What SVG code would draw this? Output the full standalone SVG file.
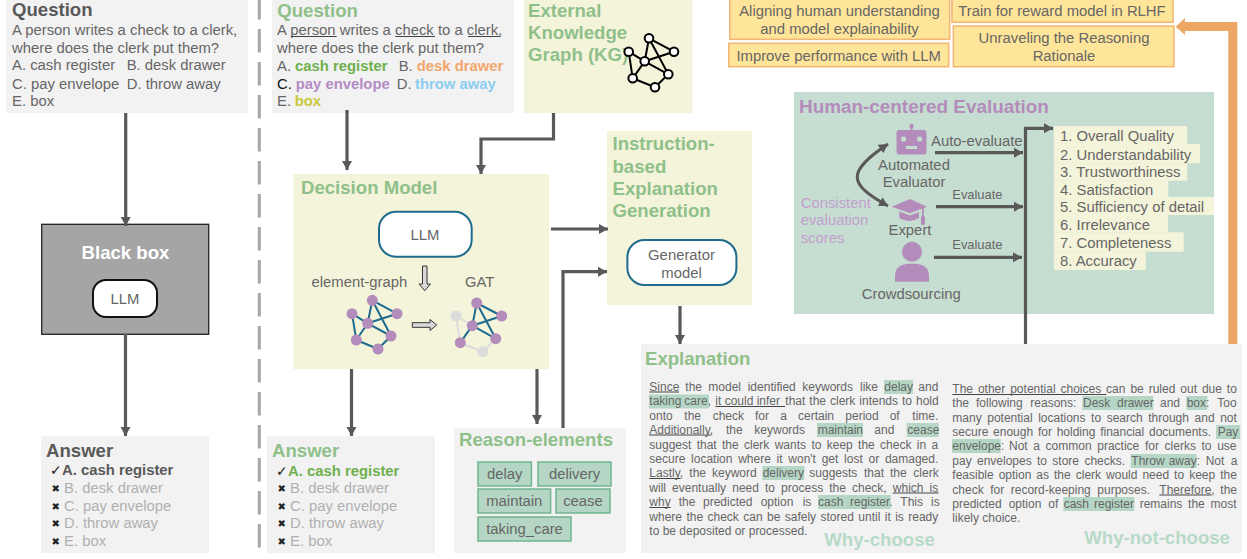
<svg xmlns="http://www.w3.org/2000/svg" width="1247" height="559" viewBox="0 0 1247 559">
<style>
text{font-family:"Liberation Sans",Arial,sans-serif;font-size:14.85px;fill:#666}
.t{font-size:18.6px;font-weight:bold}
.g{fill:#8fc08a}
.dk{fill:#595959}
.c{text-anchor:middle}
.b{font-weight:bold}
.gy{fill:#b0b0b0}
.p{fill:#f2f2f2}
.y{fill:#f4f4da}
.x{font-size:12px}
.hl{fill:#b5d6c5}
.ul{stroke:#444;stroke-width:1;fill:none}
.tag{fill:#b5d6c5;stroke:#6fb58f;stroke-width:1.5}
.ye{fill:#ffe599;stroke:#f2b878;stroke-width:1.6}
.pill{fill:#fff;stroke:#1f6b8e;stroke-width:2}
.mk{font-family:"DejaVu Sans",sans-serif;font-size:10px;fill:#222}
.ck{font-family:"DejaVu Sans",sans-serif;font-size:14px;fill:#222}
.arr{stroke:#595959;stroke-width:3.2;fill:none;marker-end:url(#ah)}
.e{stroke:#1f6b8e;stroke-width:2;fill:none}
.eg{stroke:#dcdcdc;stroke-width:2;fill:none}
.nd{fill:#b48cbc}
.ng{fill:#dcdcdc}
.pu{fill:#b48cbc}
.lp{fill:#c39fd0}
.hol{fill:#d9d9d9;stroke:#333;stroke-width:1}
.w{fill:#b8dac8;font-size:18.6px;font-weight:bold}
</style>
<defs>
<marker id="ah" markerUnits="userSpaceOnUse" markerWidth="12" markerHeight="12" refX="9" refY="6" orient="auto"><path d="M0,1 L9,6 L0,11 Z" fill="#595959"/></marker>
<marker id="ahb" markerUnits="userSpaceOnUse" markerWidth="12" markerHeight="12" refX="9" refY="6" orient="auto-start-reverse"><path d="M0,1 L9,6 L0,11 Z" fill="#595959"/></marker>
</defs>

<g id="question-left">
<rect class="p" x="6" y="0" width="242" height="113"/>
<text class="t dk" x="12" y="16">Question</text>
<text x="12" y="35">A person writes a check to a clerk,</text>
<text x="12" y="53">where does the clerk put them?</text>
<text x="12" y="70">A. cash register</text><text x="126.7" y="70">B. desk drawer</text>
<text x="12" y="88.5">C. pay envelope</text><text x="126.7" y="88.5">D. throw away</text>
<text x="12" y="106">E. box</text>
</g>

<g id="blackbox">
<rect x="41.7" y="224.3" width="167" height="110" fill="#a5a5a5" stroke="#222" stroke-width="1.3"/>
<text class="t c" x="125.5" y="259" style="fill:#fff">Black box</text>
<rect x="93" y="280" width="64" height="37" rx="13" fill="#fff" stroke="#111" stroke-width="2"/>
<text class="c" x="125" y="304">LLM</text>
</g>

<g id="answer-left">
<rect class="p" x="41" y="436" width="168" height="117"/>
<text class="t dk" x="46" y="457">Answer</text>
<text class="ck" x="50" y="475">✓</text><text class="b dk" x="62" y="475">A. cash register</text>
<text class="mk" x="51.5" y="492">✖</text><text class="gy" x="64" y="493">B. desk drawer</text>
<text class="mk" x="51.5" y="510">✖</text><text class="gy" x="64" y="511">C. pay envelope</text>
<text class="mk" x="51.5" y="527">✖</text><text class="gy" x="64" y="528">D. throw away</text>
<text class="mk" x="51.5" y="545">✖</text><text class="gy" x="64" y="546">E. box</text>
</g>

<path id="divider" d="M259.3,-4 V548" stroke="#a6a6a6" stroke-width="3" stroke-dasharray="23.5 9.5" fill="none"/>

<g id="question-right">
<rect class="p" x="272" y="0" width="242" height="113"/>
<text class="t g" x="277.3" y="17">Question</text>
<text x="277" y="35">A person writes a check to a clerk,</text>
<path class="ul" d="M291,36.5H336.7M395.3,36.5H435M468,36.5H500"/>
<text x="277" y="53">where does the clerk put them?</text>
<text x="277" y="71">A.</text><text class="b" x="295" y="71" style="fill:#6fb04e">cash register</text>
<text x="398.7" y="71">B.</text><text class="b" x="416.7" y="71" style="fill:#f2a66a">desk drawer</text>
<text x="277" y="88.5" style="fill:#111">C.</text><text class="b" x="295.7" y="88.5" style="fill:#b48cc4">pay envelope</text>
<text x="396.7" y="88.5">D.</text><text class="b" x="415" y="88.5" style="fill:#8ccdf0">throw away</text>
<text x="277" y="106">E.</text><text class="b" x="294.7" y="106" style="fill:#c9c93c">box</text>
</g>

<g id="kg">
<rect class="y" x="524" y="0" width="168.7" height="113"/>
<text class="t g" x="528" y="17">External</text>
<text class="t g" x="528" y="39">Knowledge</text>
<text class="t g" x="528" y="61">Graph (KG)</text>
<path d="M649,38.3L644.7,61.3M649,38.3L674,51.7M649,38.3L668.3,74.3M628.7,51.7L644.7,61.3M628.7,51.7L632.7,78.3M644.7,61.3L674,51.7M644.7,61.3L668.3,74.3M644.7,61.3L632.7,78.3M632.7,78.3L655,87.3M655,87.3L668.3,74.3" stroke="#000" stroke-width="2" fill="none"/>
<g fill="#fff" stroke="#000" stroke-width="2">
<circle cx="649" cy="38.3" r="4.3"/><circle cx="628.7" cy="51.7" r="4.3"/><circle cx="674" cy="51.7" r="4.3"/><circle cx="644.7" cy="61.3" r="4.3"/><circle cx="668.3" cy="74.3" r="4.3"/><circle cx="632.7" cy="78.3" r="4.3"/><circle cx="655" cy="87.3" r="4.3"/>
</g>
</g>

<g id="decision-model">
<rect class="y" x="293.3" y="174" width="255.7" height="195"/>
<text class="t g" x="301" y="193.5">Decision Model</text>
<rect class="pill" x="379" y="211.7" width="92.7" height="45" rx="17"/>
<text class="c" x="425" y="240">LLM</text>
<text x="311.5" y="287">element-graph</text>
<text x="465" y="287">GAT</text>
<path class="hol" d="M422.5,266H427V284H430.5L424.7,290.7L419,284H422.5Z"/>
<path class="hol" d="M412.3,322.7H430V319.5L436.7,325L430,330.5V327.3H412.3Z"/>
<path class="e" d="M372.3,300.3L367.7,323.3M372.3,300.3L397,313.7M372.3,300.3L391,336M352,313.7L367.7,323.3M352,313.7L356.3,340M367.7,323.3L397,313.7M367.7,323.3L391,336M367.7,323.3L356.3,340M356.3,340L378,349M378,349L391,336"/>
<g class="nd"><circle cx="372.3" cy="300.3" r="5.5"/><circle cx="352" cy="313.7" r="5.5"/><circle cx="397" cy="313.7" r="5.5"/><circle cx="367.7" cy="323.3" r="5.5"/><circle cx="391" cy="336" r="5.5"/><circle cx="356.3" cy="340" r="5.5"/><circle cx="378" cy="349" r="5.5"/></g>
<path class="eg" d="M456,316L472.3,325.7M456,316L460.3,342.7M460.3,342.7L482.7,351.7M482.7,351.7L495.7,338.7"/>
<path class="e" d="M476.7,303L472.3,325.7M476.7,303L501.7,316M476.7,303L495.7,338.7M472.3,325.7L501.7,316M472.3,325.7L495.7,338.7M472.3,325.7L460.3,342.7"/>
<g class="ng"><circle cx="456" cy="316" r="5.5"/><circle cx="482.7" cy="351.7" r="5.5"/></g>
<g class="nd"><circle cx="476.7" cy="303" r="5.5"/><circle cx="501.7" cy="316" r="5.5"/><circle cx="472.3" cy="325.7" r="5.5"/><circle cx="495.7" cy="338.7" r="5.5"/><circle cx="460.3" cy="342.7" r="5.5"/></g>
</g>

<g id="instruction">
<rect class="y" x="607" y="131" width="145" height="174"/>
<text class="t g" x="612.5" y="150">Instruction-</text>
<text class="t g" x="612.5" y="173">based</text>
<text class="t g" x="612.5" y="195">Explanation</text>
<text class="t g" x="612.5" y="217">Generation</text>
<rect class="pill" x="627.4" y="240" width="109" height="45" rx="17"/>
<text class="c" x="681.5" y="260">Generator</text>
<text class="c" x="681.5" y="278">model</text>
</g>

<g id="answer-right">
<rect class="p" x="267" y="436" width="168" height="117"/>
<text class="t g" x="272" y="457">Answer</text>
<text class="ck" x="276" y="476">✓</text><text class="b" x="288" y="476" style="fill:#6fb04e">A. cash register</text>
<text class="mk" x="277.5" y="492">✖</text><text class="gy" x="290" y="493">B. desk drawer</text>
<text class="mk" x="277.5" y="510">✖</text><text class="gy" x="290" y="511">C. pay envelope</text>
<text class="mk" x="277.5" y="527">✖</text><text class="gy" x="290" y="528">D. throw away</text>
<text class="mk" x="277.5" y="545">✖</text><text class="gy" x="290" y="546">E. box</text>
</g>

<g id="reason-elements">
<rect class="p" x="453.8" y="428" width="172" height="125"/>
<text class="t g" x="459" y="446">Reason-elements</text>
<rect class="tag" x="478" y="462" width="53.4" height="24"/><text class="c" x="504.7" y="479">delay</text>
<rect class="tag" x="538" y="462" width="73" height="24"/><text class="c" x="574.5" y="479">delivery</text>
<rect class="tag" x="478" y="489" width="72.6" height="24"/><text class="c" x="514.3" y="506">maintain</text>
<rect class="tag" x="556" y="489" width="54" height="24"/><text class="c" x="583" y="506">cease</text>
<rect class="tag" x="478" y="517" width="93" height="24"/><text class="c" x="524.5" y="534">taking_care</text>
</g>

<g id="goals">
<rect class="ye" x="729.8" y="-2" width="219.9" height="41.3"/>
<text class="c" x="839.5" y="16">Aligning human understanding</text>
<text class="c" x="839.5" y="34">and model explainability</text>
<rect class="ye" x="728.8" y="43.3" width="219.9" height="23.4"/>
<text class="c" x="838.7" y="61">Improve performance with LLM</text>
<rect class="ye" x="952" y="-2" width="221" height="24.3"/>
<text class="c" x="1062" y="16">Train for reward model in RLHF</text>
<rect class="ye" x="953.4" y="26" width="220.6" height="40.7"/>
<text class="c" x="1064" y="43">Unraveling the Reasoning</text>
<text class="c" x="1064" y="61">Rationale</text>
</g>

<g id="evaluation">
<rect x="794" y="92" width="420" height="222" fill="#c6ddd1"/>
<text class="t pu" x="799" y="113" style="font-size:18.9px">Human-centered Evaluation</text>
<g id="robot" class="pu">
<circle cx="911.5" cy="126" r="2.2"/><rect x="910.5" y="126" width="2" height="5"/>
<path fill-rule="evenodd" d="M899.5,130H923.5Q926.5,130 926.5,133V151.5Q926.5,154.5 923.5,154.5H899.5Q896.5,154.5 896.5,151.5V133Q896.5,130 899.5,130ZM901,139a2.6,2.6 0 1 0 5.2,0a2.6,2.6 0 1 0 -5.2,0ZM917,139a2.6,2.6 0 1 0 5.2,0a2.6,2.6 0 1 0 -5.2,0ZM906,146V149H917V146Z"/>
</g>
<text x="931" y="146">Auto-evaluate</text>
<text class="c" x="914" y="170">Automated</text>
<text class="c" x="914" y="187">Evaluator</text>
<g id="expert" class="pu">
<path d="M891.7,206.7L910,199L927,206.7L910,213.3Z"/>
<path d="M899.3,211.5L910,215.5L919,212V218Q910,224 899.3,218Z"/>
<rect x="922" y="208" width="1.8" height="9"/><rect x="921" y="216" width="4" height="9" rx="1.5"/>
</g>
<text class="c" x="910" y="235">Expert</text>
<g id="crowd" class="pu">
<circle cx="912" cy="251.7" r="10"/>
<path d="M895,281.7V276Q895,264 910,263.7H914Q929,264 929,276V281.7Z"/>
</g>
<text class="c" x="911.3" y="299">Crowdsourcing</text>
<text class="lp" x="800.7" y="207.7">Consistent</text>
<text class="lp" x="800.7" y="225">evaluation</text>
<text class="lp" x="800.7" y="242.7">scores</text>
<text x="952.3" y="199.3" style="font-size:12.9px">Evaluate</text>
<text x="952.3" y="249" style="font-size:12.9px">Evaluate</text>
<g id="metrics">
<rect class="y" x="1054" y="126" width="133.3" height="18"/>
<rect class="y" x="1054" y="144" width="146" height="19.3"/>
<rect class="y" x="1054" y="163.3" width="133.3" height="17.4"/>
<rect class="y" x="1054" y="180.7" width="114.3" height="16.3"/>
<rect class="y" x="1054" y="197" width="160" height="18"/>
<rect class="y" x="1054" y="215" width="114" height="17.3"/>
<rect class="y" x="1054" y="232.3" width="129.7" height="19.4"/>
<rect class="y" x="1054" y="251.7" width="91.7" height="18.3"/>
<text x="1060" y="141">1. Overall Quality</text>
<text x="1060" y="160">2. Understandability</text>
<text x="1060" y="177">3. Trustworthiness</text>
<text x="1060" y="195">4. Satisfaction</text>
<text x="1060" y="212">5. Sufficiency of detail</text>
<text x="1060" y="230">6. Irrelevance</text>
<text x="1060" y="248">7. Completeness</text>
<text x="1060" y="266">8. Accuracy</text>
</g>
</g>

<g id="explanation">
<rect class="p" x="641" y="344" width="601" height="209"/>
<text class="t g" x="645" y="365">Explanation</text>
<g id="highlights" class="hl">
<rect x="884" y="380" width="29" height="14"/>
<rect x="649" y="394.5" width="60" height="14"/>
<rect x="817" y="423" width="46" height="14"/>
<rect x="906.7" y="423" width="32" height="14"/>
<rect x="762.3" y="466" width="42" height="14"/>
<rect x="818" y="495" width="72.7" height="14"/>
<rect x="1082.3" y="396" width="71" height="14"/>
<rect x="1186.3" y="396" width="21" height="14"/>
<rect x="1216" y="425" width="24.3" height="14"/>
<rect x="952" y="439" width="48.7" height="14"/>
<rect x="1130.7" y="454" width="66" height="14"/>
<rect x="1063.3" y="497" width="71" height="14"/>
</g>
<path class="ul" d="M649.3,392H679M715.3,406.5H785M649.3,435H711M649.3,478.5H680.7M892.7,493H938.7M649.3,507.5H670.7M952.3,394.5H1106.3M1159.3,495H1211.7"/>
<g id="why-choose">
<text class="x" y="390.5"><tspan x="649.3">Since</tspan><tspan x="685.3">the</tspan><tspan x="708.3">model</tspan><tspan x="747.7">identified</tspan><tspan x="802.3">keywords</tspan><tspan x="860">like</tspan><tspan x="884.3">delay</tspan><tspan x="918.3">and</tspan></text>
<text class="x" y="405"><tspan x="649.3">taking</tspan><tspan x="684.3">care,</tspan><tspan x="715.3">it could infer</tspan><tspan x="785.3" word-spacing="0.66">that the clerk intends to hold</tspan></text>
<text class="x" y="419.5"><tspan x="649.3">onto</tspan><tspan x="684.3">the</tspan><tspan x="712.7">check</tspan><tspan x="755">for</tspan><tspan x="780.3">a</tspan><tspan x="798">certain</tspan><tspan x="845.3">period</tspan><tspan x="889.7">of</tspan><tspan x="912.3">time.</tspan></text>
<text class="x" y="433.5"><tspan x="649.3">Additionally,</tspan><tspan x="726">the</tspan><tspan x="754.3">keywords</tspan><tspan x="817.7">maintain</tspan><tspan x="874.3">and</tspan><tspan x="907.3">cease</tspan></text>
<text class="x" x="649.3" y="448.5" word-spacing="2">suggest that the clerk wants to keep the check in a</text>
<text class="x" x="649.3" y="462.5" word-spacing="2.4">secure location where it won't get lost or damaged.</text>
<text class="x" y="477"><tspan x="649.3">Lastly,</tspan><tspan x="689.3">the</tspan><tspan x="712">keyword</tspan><tspan x="762.7">delivery</tspan><tspan x="809.3">suggests</tspan><tspan x="864">that</tspan><tspan x="890">the</tspan><tspan x="913.3">clerk</tspan></text>
<text class="x" x="649.3" y="491.5" word-spacing="2.77">will eventually need to process the check, which is</text>
<text class="x" y="505.8"><tspan x="649.3">why</tspan><tspan x="678.7">the</tspan><tspan x="703">predicted</tspan><tspan x="760.7">option</tspan><tspan x="802.7">is</tspan><tspan x="818">cash</tspan><tspan x="850">register.</tspan><tspan x="900.3">This</tspan><tspan x="931">is</tspan></text>
<text class="x" x="649.3" y="520.5" word-spacing="1.08">where the check can be safely stored until it is ready</text>
<text class="x" x="649.3" y="534.5">to be deposited or processed.</text>
<text class="w" x="824.3" y="546">Why-choose</text>
</g>
<g id="why-not-choose">
<text class="x" x="952.3" y="393" word-spacing="1.6">The other potential choices can be ruled out due to</text>
<text class="x" y="407"><tspan x="952.3">the</tspan><tspan x="976">following</tspan><tspan x="1030.3">reasons:</tspan><tspan x="1083">Desk</tspan><tspan x="1117">drawer</tspan><tspan x="1160">and</tspan><tspan x="1186.7">box:</tspan><tspan x="1217.3">Too</tspan></text>
<text class="x" x="952.3" y="421.5" word-spacing="2.24">many potential locations to search through and not</text>
<text class="x" y="435.5"><tspan x="952.3" word-spacing="1.44">secure enough for holding financial documents.</tspan><tspan x="1217.7">Pay</tspan></text>
<text class="x" y="450"><tspan x="952.3">envelope:</tspan><tspan x="1009" word-spacing="2.3">Not a common practice for clerks to use</tspan></text>
<text class="x" y="464.5"><tspan x="952.3" word-spacing="2">pay envelopes to store checks.</tspan><tspan x="1131.3">Throw</tspan><tspan x="1168.7">away:</tspan><tspan x="1205.7">Not</tspan><tspan x="1230.7">a</tspan></text>
<text class="x" x="952.3" y="478.5" word-spacing="1.67">feasible option as the clerk would need to keep the</text>
<text class="x" y="493.5"><tspan x="952.3" word-spacing="3.2">check for record-keeping purposes.</tspan><tspan x="1159.3">Therefore,</tspan><tspan x="1220.3">the</tspan></text>
<text class="x" y="507.5"><tspan x="952.3" word-spacing="3.66">predicted option of</tspan><tspan x="1063.7">cash</tspan><tspan x="1094">register</tspan><tspan x="1139.7" word-spacing="2.37">remains the most</tspan></text>
<text class="x" x="952.3" y="521.8">likely choice.</text>
<text class="w" x="1084.3" y="544.3">Why-not-choose</text>
</g>
</g>

<g id="connectors">
<path class="arr" d="M125.7,113V226"/>
<path class="arr" d="M125.5,334V436"/>
<path class="arr" d="M347,110V170"/>
<path class="arr" d="M553.5,113V139H481V174"/>
<path class="arr" d="M351.5,369V436"/>
<path class="arr" d="M537,369V424"/>
<path class="arr" d="M551,229H608"/>
<path class="arr" d="M563,428V271.7H607"/>
<path class="arr" d="M680,306V344"/>
<path class="arr" d="M935,152.7H1023"/>
<path class="arr" d="M936,206.7H1023"/>
<path class="arr" d="M934,257.3H1022"/>
<path class="arr" d="M1025.5,344V128.3H1053"/>
<path d="M888,144C846,172 848,184 888,206" stroke="#595959" stroke-width="3" fill="none" marker-start="url(#ahb)" marker-end="url(#ahb)"/>
<path d="M1237.3,344V22H1185V18L1175.7,26.7L1185,35V31H1228.3V344Z" fill="#eda765"/>
</g>
</svg>
